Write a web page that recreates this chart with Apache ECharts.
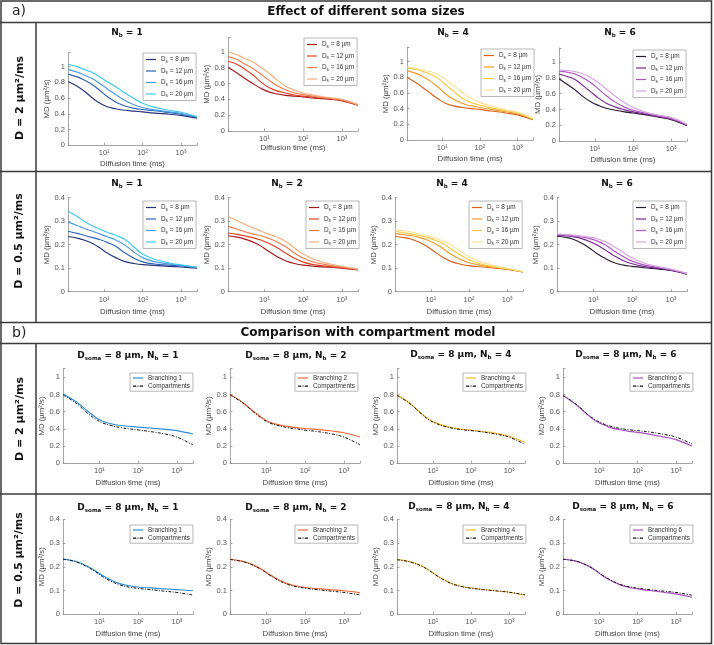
<!DOCTYPE html>
<html><head><meta charset="utf-8">
<script src="https://cdn.jsdelivr.net/npm/echarts@6/dist/echarts.min.js"></script>
<style>html,body{margin:0;padding:0;background:#fff}#c{width:714px;height:645px}</style>
</head><body><div id="c"></div>
<script>
// ---------------- DATA ----------------
const diffusionTime = [1.15, 2, 3, 5, 8, 12, 20, 35, 60, 100, 200, 500, 1000, 2600]; // ms
const xTickLabels = { 1: '10¹', 2: '10²', 3: '10³' };
const somaSizes = [8, 12, 16, 20];
const branchCounts = [1, 2, 4, 6];
const headerA = 'Effect of different soma sizes';
const headerB = 'Comparison with compartment model';
const rowLabels = ['D = 2 µm²/ms', 'D = 0.5 µm²/ms', 'D = 2 µm²/ms', 'D = 0.5 µm²/ms'];

// a) D = 2 µm²/ms
const a_D2_Nb1_Ds8  = [0.81,0.75,0.69,0.60,0.53,0.49,0.465,0.445,0.435,0.425,0.41,0.395,0.38,0.345];
const a_D2_Nb1_Ds12 = [0.905,0.87,0.83,0.77,0.69,0.62,0.55,0.50,0.47,0.455,0.44,0.415,0.395,0.355];
const a_D2_Nb1_Ds16 = [0.965,0.93,0.895,0.845,0.78,0.72,0.645,0.57,0.515,0.48,0.45,0.425,0.405,0.36];
const a_D2_Nb1_Ds20 = [1.03,1.0,0.965,0.925,0.865,0.81,0.745,0.665,0.595,0.535,0.485,0.445,0.42,0.365];

const a_D2_Nb2_Ds8  = [0.80,0.73,0.67,0.60,0.54,0.50,0.47,0.45,0.44,0.43,0.415,0.40,0.38,0.325];
const a_D2_Nb2_Ds12 = [0.88,0.84,0.785,0.71,0.62,0.56,0.51,0.48,0.455,0.44,0.425,0.405,0.385,0.33];
const a_D2_Nb2_Ds16 = [0.94,0.90,0.85,0.79,0.72,0.655,0.58,0.52,0.48,0.46,0.435,0.41,0.39,0.33];
const a_D2_Nb2_Ds20 = [1.0,0.96,0.92,0.87,0.805,0.745,0.655,0.565,0.515,0.48,0.45,0.42,0.40,0.335];

const a_D2_Nb4_Ds8  = [0.80,0.73,0.67,0.59,0.52,0.47,0.435,0.415,0.40,0.39,0.37,0.345,0.32,0.26];
const a_D2_Nb4_Ds12 = [0.885,0.85,0.81,0.745,0.67,0.59,0.52,0.465,0.435,0.415,0.39,0.36,0.335,0.265];
const a_D2_Nb4_Ds16 = [0.92,0.90,0.875,0.835,0.78,0.71,0.62,0.53,0.475,0.445,0.41,0.375,0.345,0.27];
const a_D2_Nb4_Ds20 = [0.935,0.915,0.895,0.87,0.83,0.775,0.695,0.605,0.53,0.48,0.43,0.385,0.355,0.275];

const a_D2_Nb6_Ds8  = [0.79,0.71,0.65,0.56,0.495,0.455,0.415,0.39,0.37,0.355,0.335,0.30,0.27,0.195];
const a_D2_Nb6_Ds12 = [0.85,0.815,0.78,0.70,0.62,0.55,0.48,0.43,0.395,0.37,0.345,0.31,0.28,0.20];
const a_D2_Nb6_Ds16 = [0.89,0.87,0.85,0.80,0.735,0.665,0.575,0.49,0.43,0.39,0.355,0.315,0.285,0.205];
const a_D2_Nb6_Ds20 = [0.90,0.895,0.88,0.85,0.80,0.745,0.66,0.565,0.485,0.425,0.37,0.325,0.30,0.21];

// a) D = 0.5 µm²/ms
const a_D05_Nb1_Ds8  = [0.235,0.228,0.22,0.205,0.185,0.165,0.145,0.128,0.12,0.115,0.112,0.108,0.105,0.10];
const a_D05_Nb1_Ds12 = [0.257,0.248,0.24,0.23,0.221,0.21,0.193,0.165,0.142,0.127,0.118,0.113,0.11,0.103];
const a_D05_Nb1_Ds16 = [0.296,0.282,0.27,0.257,0.245,0.234,0.22,0.198,0.168,0.145,0.128,0.118,0.112,0.104];
const a_D05_Nb1_Ds20 = [0.342,0.32,0.30,0.28,0.265,0.253,0.24,0.222,0.19,0.16,0.138,0.122,0.114,0.104];

const a_D05_Nb2_Ds8  = [0.238,0.232,0.225,0.212,0.195,0.175,0.152,0.132,0.12,0.113,0.108,0.104,0.10,0.093];
const a_D05_Nb2_Ds12 = [0.25,0.244,0.238,0.23,0.22,0.208,0.19,0.165,0.142,0.126,0.114,0.107,0.102,0.094];
const a_D05_Nb2_Ds16 = [0.278,0.266,0.256,0.246,0.238,0.229,0.214,0.192,0.165,0.143,0.124,0.112,0.105,0.095];
const a_D05_Nb2_Ds20 = [0.32,0.302,0.288,0.272,0.258,0.247,0.234,0.215,0.186,0.16,0.136,0.118,0.108,0.096];

const a_D05_Nb4_Ds8  = [0.235,0.23,0.224,0.21,0.192,0.172,0.148,0.128,0.117,0.111,0.106,0.10,0.095,0.084];
const a_D05_Nb4_Ds12 = [0.247,0.243,0.239,0.231,0.22,0.207,0.186,0.158,0.137,0.123,0.112,0.103,0.097,0.084];
const a_D05_Nb4_Ds16 = [0.256,0.251,0.246,0.239,0.231,0.221,0.206,0.18,0.155,0.136,0.118,0.105,0.098,0.085];
const a_D05_Nb4_Ds20 = [0.265,0.259,0.254,0.246,0.238,0.23,0.217,0.198,0.172,0.15,0.127,0.109,0.10,0.086];

const a_D05_Nb6_Ds8  = [0.236,0.231,0.223,0.206,0.185,0.164,0.142,0.123,0.113,0.108,0.102,0.096,0.09,0.075];
const a_D05_Nb6_Ds12 = [0.241,0.238,0.234,0.226,0.214,0.20,0.178,0.152,0.132,0.119,0.108,0.099,0.092,0.076];
const a_D05_Nb6_Ds16 = [0.243,0.241,0.238,0.233,0.226,0.217,0.20,0.172,0.149,0.13,0.114,0.102,0.094,0.077];
const a_D05_Nb6_Ds20 = [0.245,0.243,0.241,0.237,0.232,0.226,0.213,0.19,0.166,0.143,0.122,0.106,0.096,0.078];

// b) D = 2 µm²/ms, Dsoma = 8 µm
const b_D2_Nb1_branch = [0.806,0.745,0.69,0.605,0.535,0.49,0.46,0.44,0.43,0.42,0.41,0.395,0.38,0.34];
const b_D2_Nb1_comp   = [0.795,0.73,0.67,0.58,0.515,0.47,0.44,0.415,0.40,0.388,0.37,0.34,0.305,0.215];
const b_D2_Nb2_branch = [0.80,0.735,0.675,0.595,0.525,0.48,0.45,0.43,0.415,0.405,0.395,0.375,0.355,0.305];
const b_D2_Nb2_comp   = [0.795,0.73,0.67,0.585,0.515,0.47,0.44,0.415,0.40,0.385,0.37,0.34,0.305,0.215];
const b_D2_Nb4_branch = [0.795,0.73,0.67,0.58,0.51,0.47,0.435,0.41,0.395,0.385,0.37,0.345,0.315,0.245];
const b_D2_Nb4_comp   = [0.79,0.725,0.665,0.575,0.505,0.465,0.43,0.405,0.39,0.38,0.365,0.335,0.305,0.22];
const b_D2_Nb6_branch = [0.79,0.715,0.655,0.565,0.495,0.455,0.415,0.39,0.372,0.36,0.34,0.305,0.275,0.20];
const b_D2_Nb6_comp   = [0.79,0.72,0.66,0.57,0.505,0.465,0.43,0.405,0.39,0.38,0.365,0.335,0.305,0.225];

// b) D = 0.5 µm²/ms, Dsoma = 8 µm
const b_D05_Nb1_branch = [0.233,0.226,0.218,0.201,0.182,0.163,0.144,0.128,0.12,0.115,0.111,0.107,0.104,0.099];
const b_D05_Nb1_comp   = [0.232,0.225,0.216,0.199,0.179,0.159,0.139,0.123,0.114,0.109,0.104,0.097,0.092,0.081];
const b_D05_Nb2_branch = [0.232,0.226,0.219,0.205,0.187,0.168,0.147,0.129,0.119,0.113,0.108,0.103,0.099,0.091];
const b_D05_Nb2_comp   = [0.231,0.225,0.218,0.203,0.185,0.165,0.144,0.126,0.116,0.11,0.104,0.097,0.092,0.082];
const b_D05_Nb4_branch = [0.23,0.225,0.218,0.204,0.186,0.166,0.145,0.127,0.117,0.111,0.105,0.098,0.093,0.081];
const b_D05_Nb4_comp   = [0.23,0.224,0.217,0.203,0.185,0.165,0.144,0.126,0.116,0.11,0.104,0.098,0.093,0.082];
const b_D05_Nb6_branch = [0.232,0.227,0.22,0.205,0.185,0.164,0.142,0.124,0.113,0.107,0.10,0.092,0.086,0.072];
const b_D05_Nb6_comp   = [0.232,0.227,0.22,0.205,0.186,0.165,0.144,0.126,0.116,0.11,0.104,0.097,0.092,0.08];

// ---------------- STYLE / LAYOUT ----------------
const palettes = [
  ['#27337a', '#2f62b8', '#4a9be0', '#3fc9f2'],
  ['#a5161c', '#dc4328', '#ef7b4c', '#f6ad7a'],
  ['#d8601b', '#f09a2a', '#f8c63f', '#fbe39a'],
  ['#2b1a33', '#76288e', '#ae55c2', '#d9a2e2']
];
const branchColors = ['#2d8fd9', '#f26a3a', '#f6b830', '#a74dc2'];

const gridRects = [
  [[68, 52.5, 129, 92.8], [228, 37.5, 130, 93.5], [407, 47.5, 126, 92.5], [559, 48, 128, 93]],
  [[68, 197.7, 129, 94], [228, 197.7, 130, 94], [395, 197.7, 128, 94], [557, 197.7, 130, 94]],
  [[63, 368.7, 130, 94.6], [230, 368.7, 130, 94.6], [397, 368.7, 128, 94.6], [563, 368.7, 129, 94.6]],
  [[63, 519.3, 130, 95], [230, 519.3, 130, 95], [397, 519.3, 128, 95], [563, 519.3, 129, 95]]
];
const titlePos = [
  [[127, 33], null, [453, 33], [620, 33]],
  [[127, 184], [287, 184], [452, 184], [617, 184]],
  [[128, 356], [296, 356], [461, 355], [626, 355]],
  [[128, 508], [296, 508], [459, 507], [623, 507]]
];
const legendPos = [
  [[143, 53], [304, 38], [481, 49], [633, 50]],
  [[143, 201], [306, 201], [469, 201], [633, 201]],
  [[130, 373], [295, 373], [463, 373], [630, 373]],
  [[130, 525], [295, 525], [463, 525], [630, 525]]
];
const yNameGap = [[16, 11, 15, 15], [16, 8, 7, 10], [12, 12, 8.5, 13.5], [12, 12, 8.5, 13.5]];
const xNameGap = [[15, 13, 15, 15], [16, 16, 16, 16], [16, 16, 16, 16], [15.5, 15.5, 15.5, 15.5]];
const rowY = [[0, 1.18, 0.2], [0, 0.4, 0.1], [0, 1.1, 0.2], [0, 0.4, 0.1]];

const rowsData = [
  [[a_D2_Nb1_Ds8, a_D2_Nb1_Ds12, a_D2_Nb1_Ds16, a_D2_Nb1_Ds20],
   [a_D2_Nb2_Ds8, a_D2_Nb2_Ds12, a_D2_Nb2_Ds16, a_D2_Nb2_Ds20],
   [a_D2_Nb4_Ds8, a_D2_Nb4_Ds12, a_D2_Nb4_Ds16, a_D2_Nb4_Ds20],
   [a_D2_Nb6_Ds8, a_D2_Nb6_Ds12, a_D2_Nb6_Ds16, a_D2_Nb6_Ds20]],
  [[a_D05_Nb1_Ds8, a_D05_Nb1_Ds12, a_D05_Nb1_Ds16, a_D05_Nb1_Ds20],
   [a_D05_Nb2_Ds8, a_D05_Nb2_Ds12, a_D05_Nb2_Ds16, a_D05_Nb2_Ds20],
   [a_D05_Nb4_Ds8, a_D05_Nb4_Ds12, a_D05_Nb4_Ds16, a_D05_Nb4_Ds20],
   [a_D05_Nb6_Ds8, a_D05_Nb6_Ds12, a_D05_Nb6_Ds16, a_D05_Nb6_Ds20]],
  [[b_D2_Nb1_branch, b_D2_Nb1_comp], [b_D2_Nb2_branch, b_D2_Nb2_comp],
   [b_D2_Nb4_branch, b_D2_Nb4_comp], [b_D2_Nb6_branch, b_D2_Nb6_comp]],
  [[b_D05_Nb1_branch, b_D05_Nb1_comp], [b_D05_Nb2_branch, b_D05_Nb2_comp],
   [b_D05_Nb4_branch, b_D05_Nb4_comp], [b_D05_Nb6_branch, b_D05_Nb6_comp]]
];

const FONT = '"Liberation Sans", Arial, Helvetica, sans-serif';
const BFONT = '"DejaVu Sans", Verdana, sans-serif';
const AXC = '#8f8f8f';
const ICON_SOLID = 'rect';
const ICON_DASHDOT = 'path://M0,0h3.6v1h-3.6zM5,0h1v1h-1zM7.4,0h3.6v1h-3.6z';

function fmtX(v) {
  const l = Math.log10(v), r = Math.round(l);
  return (Math.abs(l - r) < 1e-6 && xTickLabels[r]) ? xTickLabels[r] : '';
}
function fmtY(iv) {
  return function (v) {
    const k = v / iv;
    return Math.abs(k - Math.round(k)) < 1e-6 ? String(+v.toFixed(2)) : '';
  };
}

const grid = [], xAxis = [], yAxis = [], series = [], legend = [], graphic = [];
const labelMap = {};

rowsData.forEach((row, ri) => {
  const isA = ri < 2;
  row.forEach((lines, pi) => {
    const gi = ri * 4 + pi;
    const g = gridRects[ri][pi];
    grid.push({ left: g[0], top: g[1], width: g[2], height: g[3], containLabel: false });
    xAxis.push({
      type: 'log', logBase: 10, gridIndex: gi, min: diffusionTime[0], max: diffusionTime[diffusionTime.length - 1],
      axisLine: { show: true, lineStyle: { color: AXC, width: 0.8 } },
      axisTick: { show: true, inside: true, length: 2.5, lineStyle: { color: AXC, width: 0.8 } },
      axisLabel: { formatter: fmtX, fontSize: 7.5, color: '#555', margin: 4, fontFamily: FONT },
      splitLine: { show: false },
      name: 'Diffusion time (ms)', nameLocation: 'middle', nameGap: xNameGap[ri][pi],
      nameTextStyle: { fontSize: 7.8, color: '#444', fontFamily: FONT }
    });
    const yr = rowY[ri];
    yAxis.push({
      type: 'value', gridIndex: gi, min: yr[0], max: yr[1], interval: yr[2],
      axisLine: { show: true, lineStyle: { color: AXC, width: 0.8 } },
      axisTick: { show: true, inside: true, length: 2.5, lineStyle: { color: AXC, width: 0.8 } },
      axisLabel: { formatter: fmtY(yr[2]), fontSize: 7.5, color: '#555', margin: 3, fontFamily: FONT },
      splitLine: { show: false },
      name: 'MD (µm²/s)', nameLocation: 'middle', nameGap: yNameGap[ri][pi],
      nameTextStyle: { fontSize: 7.8, color: '#444', fontFamily: FONT }
    });
    const items = [];
    lines.forEach((vals, li) => {
      const id = 'g' + gi + 's' + li;
      let color, label, dashed = false;
      if (isA) {
        color = palettes[pi][li];
        label = 'D{sub|s} = ' + somaSizes[li] + ' µm';
      } else if (li === 0) {
        color = branchColors[pi];
        label = 'Branching ' + branchCounts[pi];
      } else {
        color = '#111';
        label = 'Compartments';
        dashed = true;
      }
      labelMap[id] = label;
      items.push({ name: id, icon: dashed ? ICON_DASHDOT : ICON_SOLID });
      series.push({
        name: id, type: 'line', xAxisIndex: gi, yAxisIndex: gi,
        data: diffusionTime.map((t, i) => [t, vals[i]]),
        smooth: 0.4, symbol: 'none', showSymbol: false,
        color: color, itemStyle: { color: color },
        lineStyle: { color: color, width: dashed ? 1 : 1.15, type: dashed ? [3, 1.5, 1, 1.5] : 'solid' },
        emphasis: { disabled: true }, silent: true, z: dashed ? 3 : 2
      });
    });
    const lp = legendPos[ri][pi];
    legend.push({
      data: items, left: lp[0], top: lp[1], orient: 'vertical', selectedMode: false,
      itemWidth: 10, itemHeight: 1.2, symbolKeepAspect: false, itemGap: isA ? 2.5 : 1.2,
      padding: isA ? [2, 3, 2, 3] : [1.5, 3, 1.5, 3],
      borderColor: '#9a9a9a', borderWidth: 0.7, backgroundColor: '#fff', borderRadius: 0,
      formatter: n => labelMap[n],
      textStyle: {
        fontSize: 6.4, color: '#333', fontFamily: FONT, lineHeight: isA ? 9 : 7,
        rich: { sub: { fontSize: 4.6, lineHeight: 4.6, verticalAlign: 'bottom', color: '#333', fontFamily: FONT } }
      }
    });
    const tp = titlePos[ri][pi];
    if (tp) {
      const txt = isA ? ('N{sub|b} = ' + branchCounts[pi])
                      : ('D{sub|soma} = 8 µm, N{sub|b} = ' + branchCounts[pi]);
      graphic.push({
        type: 'text', x: tp[0], y: tp[1], silent: true,
        style: {
          text: txt, fill: '#111', fontFamily: BFONT, fontWeight: 'bold', fontSize: 9, lineHeight: 12,
          align: 'center', verticalAlign: 'middle', textAlign: 'center', textVerticalAlign: 'middle',
          rich: { sub: { fontSize: 5.5, lineHeight: 5.5, fontWeight: 'bold', fontFamily: BFONT, verticalAlign: 'bottom', fill: '#111' } }
        }
      });
    }
  });
});

// frame
const FR = '#3a3a3a';
graphic.push({ type: 'rect', silent: true, shape: { x: 1, y: 1, width: 710.5, height: 642.5 }, style: { fill: 'none', stroke: FR, lineWidth: 1.5 } });
[[0, 22.5, 712, 22.5], [0, 171.5, 712, 171.5], [0, 322.5, 712, 322.5], [0, 343.5, 712, 343.5], [0, 494, 712, 494],
 [36, 22.5, 36, 322.5], [36, 343.5, 36, 644]].forEach(l => {
  graphic.push({ type: 'line', silent: true, shape: { x1: l[0], y1: l[1], x2: l[2], y2: l[3] }, style: { stroke: FR, lineWidth: 1.5 } });
});

// headers
[['a)', 12, 11.5], ['b)', 12, 333]].forEach(h => graphic.push({
  type: 'text', x: h[1], y: h[2], silent: true,
  style: { text: h[0], fill: '#222', fontFamily: BFONT, fontSize: 14, align: 'left', verticalAlign: 'middle', textAlign: 'left', textVerticalAlign: 'middle' }
}));
[[headerA, 366, 11.5], [headerB, 368, 333]].forEach(h => graphic.push({
  type: 'text', x: h[1], y: h[2], silent: true,
  style: { text: h[0], fill: '#111', fontFamily: BFONT, fontWeight: 'bold', fontSize: 12, align: 'center', verticalAlign: 'middle', textAlign: 'center', textVerticalAlign: 'middle' }
}));
// row labels
[[20, 98], [19, 241], [20, 419], [19, 560]].forEach((p, i) => graphic.push({
  type: 'text', x: p[0], y: p[1], rotation: Math.PI / 2, silent: true,
  style: { text: rowLabels[i], fill: '#111', fontFamily: BFONT, fontWeight: 'bold', fontSize: 11, align: 'center', verticalAlign: 'middle', textAlign: 'center', textVerticalAlign: 'middle' }
}));

const chart = echarts.init(document.getElementById('c'), null, { renderer: 'canvas' });
chart.setOption({
  animation: false, backgroundColor: '#fff',
  grid, xAxis, yAxis, series, legend, graphic
});
</script></body></html>
